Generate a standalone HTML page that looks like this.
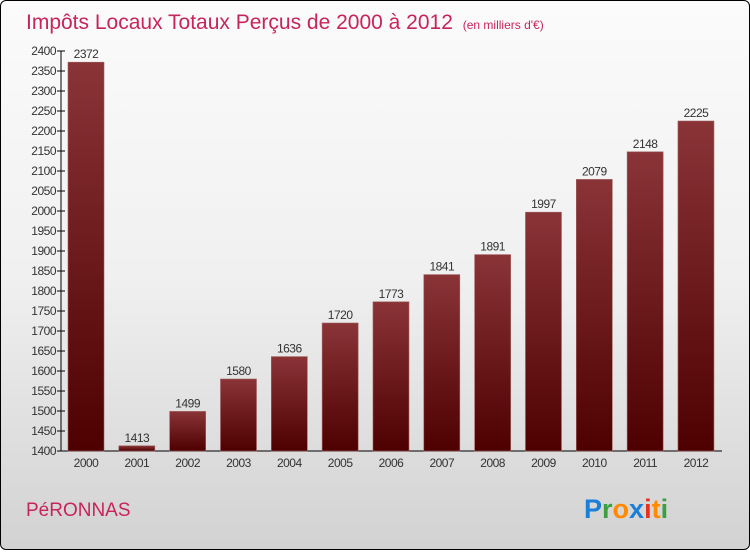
<!DOCTYPE html>
<html><head><meta charset="utf-8"><style>
body{margin:0;width:750px;height:550px;overflow:hidden;font-family:"Liberation Sans",sans-serif}
#wrap{position:absolute;left:0;top:0;width:748px;height:548px;border:1px solid #000;border-radius:6px;background:linear-gradient(#fbfbfb,#f0f0f0 50%,#d2d2d2)}
</style></head><body>
<div id="wrap">
<svg width="750" height="550">
<defs><linearGradient id="bg" x1="0" y1="0" x2="0" y2="1"><stop offset="0" stop-color="#8a3438"/><stop offset="1" stop-color="#4e0000"/></linearGradient></defs>
<text x="25" y="28" font-size="21" fill="#c8245c">Impôts Locaux Totaux Perçus de 2000 à 2012 <tspan font-size="12" dx="4">(en milliers d'€)</tspan></text>
<g id="axes"></g><g id="bars"></g>
<text x="25" y="515" font-size="19" fill="#c8245c">PéRONNAS</text>
<text x="583" y="517" font-size="27" font-weight="bold"><tspan fill="#1a7fd8">P</tspan><tspan fill="#3aa040">r</tspan><tspan fill="#ff8a00">o</tspan><tspan fill="#1a7fd8">x</tspan><tspan fill="#e83020">i</tspan><tspan fill="#ff8a00">t</tspan><tspan fill="#3aa040">i</tspan></text>
</svg></div>
<script>
const years=["2000","2001","2002","2003","2004","2005","2006","2007","2008","2009","2010","2011","2012"];
const values=[2372,1413,1499,1580,1636,1720,1773,1841,1891,1997,2079,2148,2225];
const ticks=[1400,1450,1500,1550,1600,1650,1700,1750,1800,1850,1900,1950,2000,2050,2100,2150,2200,2250,2300,2350,2400];
const NS="http://www.w3.org/2000/svg";
const y=v=>450-(v-1400)*0.4, x=i=>85+i*50.83;
function mk(t,a,p){const e=document.createElementNS(NS,t);for(const k in a)e.setAttribute(k,a[k]);p.appendChild(e);return e;}
const ax=document.getElementById('axes'),bg=document.getElementById('bars');
let l=mk('line',{x1:60,y1:50,x2:60,y2:450,stroke:'#000'},ax);


l=mk('line',{x1:60,y1:450,x2:721,y2:450,stroke:'#000'},ax);


ticks.forEach(t=>{mk('line',{x1:56,x2:64,y1:y(t),y2:y(t),stroke:'#000'},ax);
const e=mk('text',{x:55,y:y(t)+4,'font-size':12,'text-anchor':'end',fill:'#333','letter-spacing':'-0.5'},ax);e.textContent=t;

});
years.forEach((yr,i)=>{const v=values[i];
const r=mk('rect',{x:x(i)-18,y:y(v),width:36,height:450-y(v),fill:'url(#bg)',stroke:'#a06060','stroke-width':0.6},bg);


let t=mk('text',{x:x(i),y:y(v)-4,'font-size':12,'text-anchor':'middle',fill:'#333','letter-spacing':'-0.5'},bg);t.textContent=v;


t=mk('text',{x:x(i),y:466,'font-size':12,'text-anchor':'middle',fill:'#333','letter-spacing':'-0.5'},bg);t.textContent=yr;

});
</script></body></html>
